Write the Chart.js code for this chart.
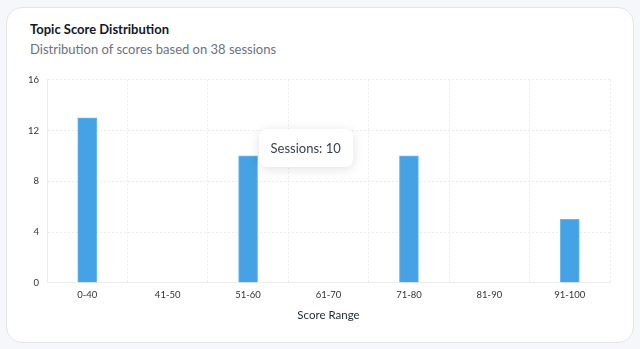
<!DOCTYPE html>
<html>
<head>
<meta charset="utf-8">
<script src="https://cdn.jsdelivr.net/npm/chart.js@4/dist/chart.umd.min.js"></script>
<style>
  html, body { margin: 0; padding: 0; background: #f5f7fb; width: 640px; height: 349px; overflow: hidden; }
  body { font-family: Lato, "Noto Sans", sans-serif; }
  .card {
    position: absolute; left: 6px; top: 7px; width: 626px; height: 334px;
    background: #fff; border: 1px solid #e1e6ee; border-radius: 16px;
  }
  .title { position: absolute; left: 23px; top: 13px; font-size: 13px; font-weight: 700; color: #111827; }
  .subtitle { position: absolute; left: 23px; top: 33px; font-size: 13px; color: #6b7280; }
  .chart-box { position: absolute; left: 13px; top: 58px; width: 596px; height: 258px; }
  #tip {
    position: absolute; background: #fff; border-radius: 8px; padding: 11px 12px;
    font-size: 13px; line-height: 16px; color: #374151; box-shadow: 0 2px 12px rgba(0,0,0,0.12);
    white-space: nowrap; pointer-events: none; opacity: 0;
  }
</style>
</head>
<body>
<div class="card">
  <div class="title">Topic Score Distribution</div>
  <div class="subtitle">Distribution of scores based on 38 sessions</div>
  <div class="chart-box">
    <canvas id="scoreChart"></canvas>
    <div id="tip"></div>
  </div>
</div>
<script>
const scoreRanges = ["0-40", "41-50", "51-60", "61-70", "71-80", "81-90", "91-100"];
const sessionCounts = [13, 0, 10, 0, 10, 0, 5];
const yTicks = [0, 4, 8, 12, 16];

const gridColor = "#ececec";

// html tooltip so it can carry a soft shadow
function externalTip(context) {
  const tip = document.getElementById("tip");
  const tooltip = context.tooltip;
  if (tooltip.opacity === 0 || !tooltip.dataPoints || !tooltip.dataPoints.length) {
    tip.style.opacity = 0;
    return;
  }
  const point = tooltip.dataPoints[0];
  const bar = point.element;
  tip.textContent = "Sessions: " + point.raw;
  tip.style.left = (bar.x + bar.width / 2 + 1) + "px";
  tip.style.top = (bar.y - 27) + "px";
  tip.style.opacity = 1;
}

const chart = new Chart(document.getElementById("scoreChart"), {
  type: "bar",
  data: {
    labels: scoreRanges,
    datasets: [{
      label: "Sessions",
      data: sessionCounts,
      backgroundColor: "#45a3e5",
      borderColor: "#6bb6ee",
      borderWidth: 1,
      barThickness: 19
    }]
  },
  options: {
    responsive: true,
    maintainAspectRatio: false,
    animation: false,
    layout: { padding: { top: 0, right: 6 } },
    plugins: {
      legend: { display: false },
      tooltip: { enabled: false, external: externalTip }
    },
    scales: {
      x: {
        grid: { color: gridColor, drawTicks: false },
        border: { display: true, color: gridColor, dash: [2, 2] },
        ticks: { color: "#333", font: { family: "Lato", size: 9.5 }, padding: 6 },
        title: { display: true, text: "Score Range", color: "#1f2937", font: { family: "Lato", size: 11.5 }, padding: { top: 2, bottom: 2 } }
      },
      y: {
        min: 0,
        max: 16,
        afterBuildTicks: function(axis) {
          axis.ticks = yTicks.map(function(v) { return { value: v }; });
        },
        grid: { color: gridColor, drawTicks: false },
        border: { display: true, color: gridColor, dash: [2, 2] },
        ticks: { color: "#333", font: { family: "Lato", size: 9.5 }, padding: 8 }
      }
    }
  }
});

// dotted grid lines
chart.options.scales.x.grid.borderDash = [2, 2];
chart.options.scales.y.grid.borderDash = [2, 2];
chart.options.scales.x.grid.dash = [2, 2];
chart.options.scales.y.grid.dash = [2, 2];
chart.update();

const activeBar = chart.getDatasetMeta(0).data[2];
chart.tooltip.setActiveElements([{ datasetIndex: 0, index: 2 }], { x: activeBar.x, y: activeBar.y });
chart.update();
</script>
</body>
</html>
